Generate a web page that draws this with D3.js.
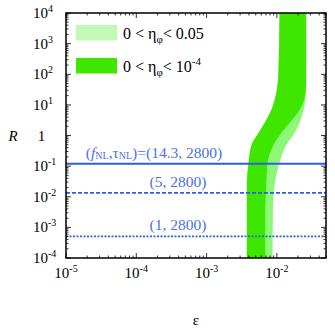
<!DOCTYPE html>
<html><head><meta charset="utf-8">
<script src="https://cdn.jsdelivr.net/npm/d3@7"></script>
<style>html,body{margin:0;padding:0;background:#fff}svg{display:block}</style>
</head><body>
<svg id="c" width="335" height="329"></svg>
<script>
// ---- data ----
const bandR = [1e-4, 0.0043, 0.024, 0.126, 0.49, 1.2, 2.57, 6.8, 24.5, 81, 1e4];
const epsLeft = [0.00374, 0.00374, 0.00374, 0.00396, 0.00436, 0.00548, 0.00668, 0.00832, 0.0098, 0.01045, 0.0109];
const epsDarkRight = [0.00684, 0.00684, 0.00706, 0.00736, 0.00895, 0.01153, 0.0151, 0.021, 0.0255, 0.0261, 0.0261];
const epsLightRight = [0.00867, 0.0088, 0.00927, 0.0109, 0.0136, 0.0178, 0.021, 0.0239, 0.0259, 0.0261, 0.0261];
const lineR = [0.12, 0.0134, 0.00051];
const lineStyles = ["solid", "dashed", "dotted"];
const lineLabels = ["main", "(5, 2800)", "(1, 2800)"];
const xTickExps = [-5, -4, -3, -2];
const yTickExps = [-4, -3, -2, -1, 0, 1, 2, 3, 4];
const legendLabels = ["0.05", "-4"];

const svg = d3.select("#c");
const W = 335, H = 329;
const L = 66, R = 326, T = 13, B = 258;
const x = d3.scaleLog().domain([1e-5, 0.05]).range([L, R]);
const y = d3.scaleLog().domain([1e-4, 1e4]).range([B, T]);
const serif = "'Liberation Serif', 'Times New Roman', serif";

svg.append("defs").append("clipPath").attr("id", "clip")
  .append("rect").attr("x", L).attr("y", T).attr("width", R - L).attr("height", B - T);

const g = svg.append("g").attr("clip-path", "url(#clip)");
const rows = bandR.map((r, i) => ({ r, l: epsLeft[i], d: epsDarkRight[i], lt: epsLightRight[i] }));
const areaLight = d3.area().curve(d3.curveMonotoneY).y(d => y(d.r)).x0(d => x(d.l)).x1(d => x(d.lt));
const areaDark = d3.area().curve(d3.curveMonotoneY).y(d => y(d.r)).x0(d => x(d.l)).x1(d => x(d.d));
g.append("path").attr("d", areaLight(rows)).attr("fill", "#8df878");
g.append("path").attr("d", areaDark(rows)).attr("fill", "#3ee600");

// horizontal lines
const blue = "#2d5ee6";
const dashes = { solid: null, dashed: "4,2", dotted: "2,1.5" };
lineR.forEach((r, i) => {
  g.append("line").attr("x1", L).attr("x2", R).attr("y1", y(r)).attr("y2", y(r))
    .attr("stroke", blue).attr("stroke-width", i === 0 ? 2 : 1.6)
    .attr("stroke-dasharray", dashes[lineStyles[i]]);
});

// line labels
const tb = "#4a72ea";
const t0 = svg.append("text").attr("x", 154).attr("y", y(lineR[0]) - 6).attr("text-anchor", "middle")
  .attr("font-family", serif).attr("font-size", 15.5).attr("fill", tb);
t0.append("tspan").text("(");
t0.append("tspan").attr("font-style", "italic").text("f");
t0.append("tspan").attr("font-size", 10).attr("dy", 1).text("NL");
t0.append("tspan").attr("dy", -1).text(",τ");
t0.append("tspan").attr("font-size", 10).attr("dy", 1).text("NL");
t0.append("tspan").attr("dy", -1).text(")=(14.3, 2800)");
[1, 2].forEach(i => {
  svg.append("text").attr("x", 178).attr("y", y(lineR[i]) - 6).attr("text-anchor", "middle")
    .attr("font-family", serif).attr("font-size", 15.5).attr("fill", tb).text(lineLabels[i]);
});

// ticks
const axisG = svg.append("g").attr("stroke", "#000").attr("stroke-width", 0.8);
function decadeTicks(lo, hi, domain) {
  const out = [];
  for (let e = lo; e <= hi; e++) for (let k = 1; k <= 9; k++) {
    const v = k * Math.pow(10, e);
    if (v >= domain[0] * 0.999 && v <= domain[1] * 1.001) out.push({ v, major: k === 1 });
  }
  return out;
}
decadeTicks(-5, -2, x.domain()).forEach(t => {
  const len = t.major ? 5 : 2.5, xx = x(t.v);
  axisG.append("line").attr("x1", xx).attr("x2", xx).attr("y1", B).attr("y2", B - len);
  axisG.append("line").attr("x1", xx).attr("x2", xx).attr("y1", T).attr("y2", T + len);
});
decadeTicks(-4, 4, y.domain()).forEach(t => {
  const len = t.major ? 5 : 2.5, yy = y(t.v);
  axisG.append("line").attr("x1", L).attr("x2", L + len).attr("y1", yy).attr("y2", yy);
  axisG.append("line").attr("x1", R).attr("x2", R - len).attr("y1", yy).attr("y2", yy);
});
svg.append("rect").attr("x", L).attr("y", T).attr("width", R - L).attr("height", B - T)
  .attr("fill", "none").attr("stroke", "#000").attr("stroke-width", 1.5);

// tick labels
const fs = 15, sfs = 10;
xTickExps.forEach(e => {
  const t = svg.append("text").attr("x", x(Math.pow(10, e))).attr("y", 278).attr("text-anchor", "middle")
    .attr("font-family", serif).attr("font-size", fs).attr("fill", "#000");
  t.append("tspan").text("10");
  t.append("tspan").attr("font-size", sfs).attr("dy", -6).text(String(e).replace("-", "-"));
});
yTickExps.forEach(e => {
  const yy = y(Math.pow(10, e)) + 5;
  if (e === 0) {
    svg.append("text").attr("x", 41.5).attr("y", yy).attr("text-anchor", "middle")
      .attr("font-family", serif).attr("font-size", fs).text("1");
  } else {
    const t = svg.append("text").attr("x", 33).attr("y", yy).attr("font-family", serif).attr("font-size", fs);
    t.append("tspan").text("10");
    t.append("tspan").attr("font-size", sfs).attr("dy", -6).text(String(e));
  }
});

// axis titles
svg.append("text").attr("x", 13).attr("y", 141).attr("text-anchor", "middle").attr("font-family", serif)
  .attr("font-style", "italic").attr("font-size", 15).text("R");
svg.append("text").attr("x", 196).attr("y", 325).attr("text-anchor", "middle").attr("font-family", serif)
  .attr("font-size", 15).text("ε");

// legend
const leg = [{ c: "#c2f9b4", y: 25 }, { c: "#3ee600", y: 58 }];
leg.forEach((d, i) => {
  svg.append("rect").attr("x", 76).attr("y", d.y).attr("width", 41).attr("height", 15.5).attr("fill", d.c);
  const t = svg.append("text").attr("x", 123).attr("y", d.y + 14).attr("font-family", serif).attr("font-size", 16);
  t.append("tspan").text("0 < η");
  t.append("tspan").attr("font-size", 11).attr("dy", 4).text("φ");
  if (i === 0) {
    t.append("tspan").attr("dy", -4).text("< " + legendLabels[0]);
  } else {
    t.append("tspan").attr("dy", -4).text("< 10");
    t.append("tspan").attr("font-size", 11).attr("dy", -7).text(legendLabels[1]);
  }
});
</script>
</body></html>
